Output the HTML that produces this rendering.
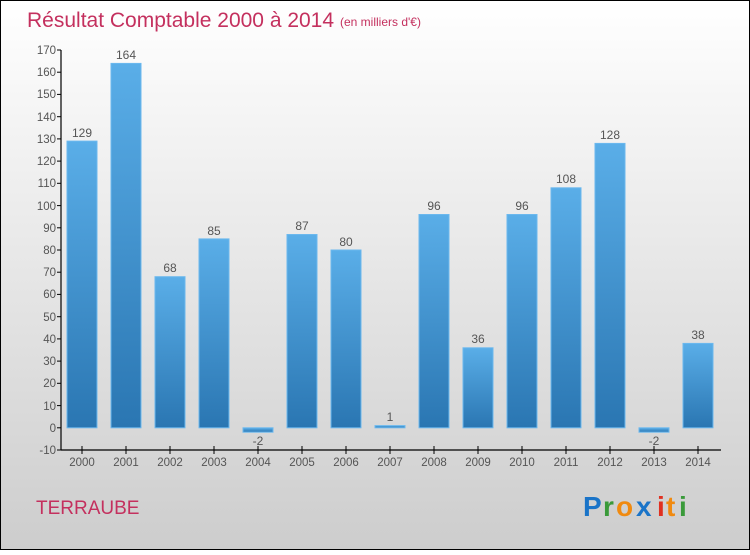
<!DOCTYPE html>
<html><head><meta charset="utf-8"><style>
body{margin:0;width:750px;height:550px;overflow:hidden}
</style></head><body>
<svg width="750" height="550" xmlns="http://www.w3.org/2000/svg" font-family="Liberation Sans, sans-serif">
<defs>
<linearGradient id="bg" x1="0" y1="0" x2="0" y2="1"><stop offset="0" stop-color="#ffffff"/><stop offset="1" stop-color="#cdcdcd"/></linearGradient>
<linearGradient id="bar" x1="0" y1="0" x2="0" y2="1"><stop offset="0" stop-color="#5aaee8"/><stop offset="1" stop-color="#2a76b2"/></linearGradient>
</defs>
<rect x="0.5" y="0.5" width="749" height="549" fill="url(#bg)" stroke="#000"/>
<text x="27" y="27" font-size="21" fill="#c4305e">Résultat Comptable 2000 à 2014</text>
<text x="340" y="26" font-size="12" fill="#c4305e">(en milliers d'€)</text>
<g fill="url(#bar)" stroke="#6bb8ee" stroke-width="1">
<rect x="67" y="141.1" width="30" height="286.7"/>
<rect x="111" y="63.4" width="30" height="364.4"/>
<rect x="155" y="276.7" width="30" height="151.1"/>
<rect x="199" y="238.9" width="30" height="188.9"/>
<rect x="243" y="427.8" width="30" height="4.4"/>
<rect x="287" y="234.5" width="30" height="193.3"/>
<rect x="331" y="250" width="30" height="177.8"/>
<rect x="375" y="425.6" width="30" height="2.2"/>
<rect x="419" y="214.5" width="30" height="213.3"/>
<rect x="463" y="347.8" width="30" height="80"/>
<rect x="507" y="214.5" width="30" height="213.3"/>
<rect x="551" y="187.8" width="30" height="240"/>
<rect x="595" y="143.4" width="30" height="284.4"/>
<rect x="639" y="427.8" width="30" height="4.4"/>
<rect x="683" y="343.4" width="30" height="84.4"/>
</g>
<g font-size="12" fill="#555" text-anchor="middle">
<text x="82" y="137">129</text><text x="126" y="59">164</text><text x="170" y="272">68</text>
<text x="214" y="235">85</text><text x="258" y="445">-2</text><text x="302" y="230">87</text>
<text x="346" y="246">80</text><text x="390" y="421">1</text><text x="434" y="210">96</text>
<text x="478" y="343">36</text><text x="522" y="210">96</text><text x="566" y="183">108</text>
<text x="610" y="139">128</text><text x="654" y="445">-2</text><text x="698" y="339">38</text>
</g>
<g stroke="#000" stroke-width="1.2">
<line x1="61" y1="50" x2="61" y2="450"/>
<line x1="61" y1="450" x2="721" y2="450"/>
</g>
<g stroke="#000" stroke-width="1">
<line x1="57" y1="50" x2="61" y2="50"/><line x1="57" y1="72.2" x2="61" y2="72.2"/><line x1="57" y1="94.4" x2="61" y2="94.4"/><line x1="57" y1="116.7" x2="61" y2="116.7"/><line x1="57" y1="138.9" x2="61" y2="138.9"/><line x1="57" y1="161.1" x2="61" y2="161.1"/><line x1="57" y1="183.3" x2="61" y2="183.3"/><line x1="57" y1="205.6" x2="61" y2="205.6"/><line x1="57" y1="227.8" x2="61" y2="227.8"/><line x1="57" y1="250" x2="61" y2="250"/><line x1="57" y1="272.2" x2="61" y2="272.2"/><line x1="57" y1="294.4" x2="61" y2="294.4"/><line x1="57" y1="316.7" x2="61" y2="316.7"/><line x1="57" y1="338.9" x2="61" y2="338.9"/><line x1="57" y1="361.1" x2="61" y2="361.1"/><line x1="57" y1="383.3" x2="61" y2="383.3"/><line x1="57" y1="405.6" x2="61" y2="405.6"/><line x1="57" y1="427.8" x2="61" y2="427.8"/><line x1="57" y1="450" x2="61" y2="450"/>
<line x1="82" y1="446" x2="82" y2="454"/><line x1="126" y1="446" x2="126" y2="454"/><line x1="170" y1="446" x2="170" y2="454"/><line x1="214" y1="446" x2="214" y2="454"/><line x1="258" y1="446" x2="258" y2="454"/><line x1="302" y1="446" x2="302" y2="454"/><line x1="346" y1="446" x2="346" y2="454"/><line x1="390" y1="446" x2="390" y2="454"/><line x1="434" y1="446" x2="434" y2="454"/><line x1="478" y1="446" x2="478" y2="454"/><line x1="522" y1="446" x2="522" y2="454"/><line x1="566" y1="446" x2="566" y2="454"/><line x1="610" y1="446" x2="610" y2="454"/><line x1="654" y1="446" x2="654" y2="454"/><line x1="698" y1="446" x2="698" y2="454"/>
</g>
<g font-size="11.5" fill="#555" text-anchor="end">
<text x="56" y="54">170</text><text x="56" y="76">160</text><text x="56" y="98">150</text><text x="56" y="121">140</text><text x="56" y="143">130</text><text x="56" y="165">120</text><text x="56" y="187">110</text><text x="56" y="210">100</text><text x="56" y="232">90</text><text x="56" y="254">80</text><text x="56" y="276">70</text><text x="56" y="298">60</text><text x="56" y="321">50</text><text x="56" y="343">40</text><text x="56" y="365">30</text><text x="56" y="387">20</text><text x="56" y="410">10</text><text x="56" y="432">0</text><text x="56" y="454">-10</text>
</g>
<g font-size="11.5" fill="#555" text-anchor="middle">
<text x="82" y="466">2000</text><text x="126" y="466">2001</text><text x="170" y="466">2002</text><text x="214" y="466">2003</text><text x="258" y="466">2004</text><text x="302" y="466">2005</text><text x="346" y="466">2006</text><text x="390" y="466">2007</text><text x="434" y="466">2008</text><text x="478" y="466">2009</text><text x="522" y="466">2010</text><text x="566" y="466">2011</text><text x="610" y="466">2012</text><text x="654" y="466">2013</text><text x="698" y="466">2014</text>
</g>
<text x="36" y="514" font-size="19" fill="#c4305e">TERRAUBE</text>
<g font-size="28" font-weight="bold" font-family="Liberation Sans, sans-serif">
<text x="583" y="516" fill="#1a74c8">P</text><text x="603" y="516" fill="#3a9a3a">r</text><text x="616" y="516" fill="#f08a10">o</text><text x="636" y="516" fill="#1a74c8">x</text><text x="657" y="516" fill="#e03020">i</text><text x="666" y="516" fill="#f08a10">t</text><text x="679" y="516" fill="#3a9a3a">i</text>
</g>
</svg>
</body></html>
